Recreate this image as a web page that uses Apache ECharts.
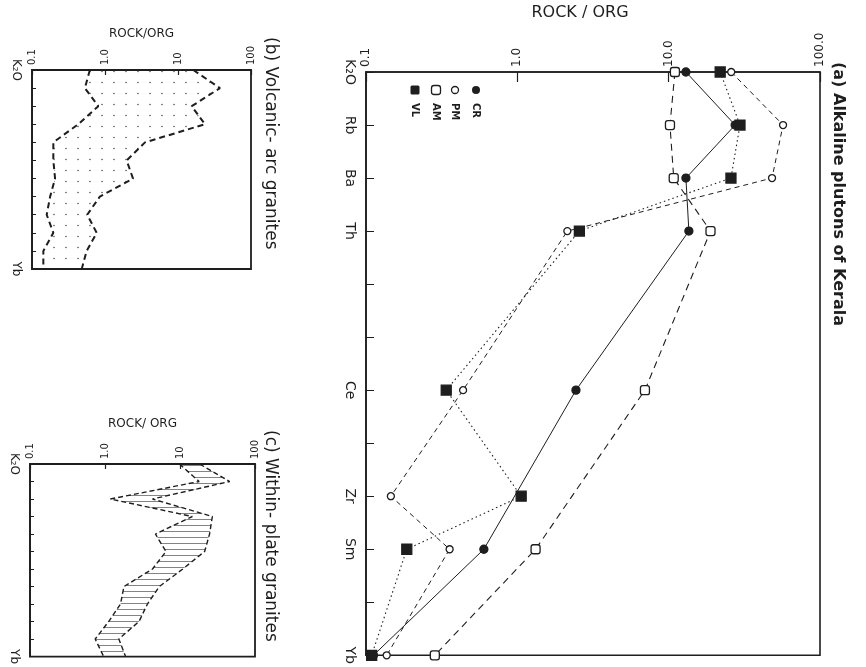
<!DOCTYPE html>
<html><head><meta charset="utf-8">
<script src="https://cdn.jsdelivr.net/npm/echarts@6/dist/echarts.min.js"></script>
<style>html,body{margin:0;padding:0;background:#fff}#c{width:866px;height:667px}</style>
</head><body><div id="c"></div><script>
// ---- data ----
const elements = ['K2O','Rb','Ba','Th','Ta','Nb','Ce','Hf','Zr','Sm','Y','Yb'];
const mainCatLabels = {K2O:'K₂O', Rb:'Rb', Ba:'Ba', Th:'Th', Ce:'Ce', Zr:'Zr', Sm:'Sm', Yb:'Yb'};
const smallCatLabels = {K2O:'K₂O', Yb:'Yb'};
const mainTickLabels = ['0.1','1.0','10.0','100.0'];
const smallTickLabels = ['0.1','1.0','10','100'];
const CR = [13.0, 27.5, 13.0, 13.6, null, null, 2.44, null, null, 0.601, null, 0.112];
const PM = [25.9, 57.0, 48.2, 2.14, null, null, 0.438, null, 0.146, 0.357, null, 0.137];
const AM = [11.0, 10.2, 10.8, 18.9, null, null, 6.97, null, null, 1.32, null, 0.285];
const VL = [21.9, 29.6, 25.8, 2.57, null, null, 0.339, null, 1.06, 0.186, null, 0.109];
const vagUpper = [16.2, 37.6, 15.4, 23.4, 3.53, 1.98, 2.42, 0.85, 0.57, 0.77, 0.56, 0.48];
const vagLower = [0.62, 0.53, 0.81, 0.43, 0.196, 0.196, 0.207, 0.177, 0.159, 0.196, 0.143, 0.143];
const wpgUpper = [18.3, 46, 4.3, 27, 24.8, 21.3, 10.9, 5.3, 3.68, 2.84, 1.53, 1.88];
const wpgLower = [9.8, 18, 1.18, 14.6, 4.7, 6.5, 4.3, 1.79, 1.61, 1.12, 0.74, 0.96];

// ---- styling ----
const FONT = 'DejaVu Sans';
const INK = '#1e1e1e';

function dotPattern() {
  const c = document.createElement('canvas'); c.width = 12; c.height = 11;
  const g = c.getContext('2d'); g.fillStyle = '#555';
  g.beginPath(); g.arc(6, 5.5, 0.8, 0, Math.PI * 2); g.fill();
  return {image: c, repeat: 'repeat'};
}
function hatchPattern() {
  const c = document.createElement('canvas'); c.width = 10; c.height = 6;
  const g = c.getContext('2d'); g.fillStyle = '#666';
  g.fillRect(0, 3, 10, 0.8);
  return {image: c, repeat: 'repeat'};
}

function valAxis(gi, labels, fs, name, gap, nfs, tickLen, namePad) {
  return {
    type: 'log', logBase: 10, gridIndex: gi, min: 0.1, max: 100, position: 'top',
    name: name, nameLocation: 'middle', nameGap: gap,
    nameTextStyle: {fontSize: nfs, color: INK, fontFamily: FONT, padding: namePad},
    axisLine: {show: true, lineStyle: {color: INK, width: 1.6}},
    axisTick: {show: true, inside: true, length: tickLen, lineStyle: {color: INK, width: 1.2}},
    axisLabel: {rotate: -90, fontSize: fs, color: INK, fontFamily: FONT, margin: 5,
      formatter: v => labels[Math.round(Math.log10(v)) + 1]},
    splitLine: {show: false}, minorTick: {show: false}, minorSplitLine: {show: false}
  };
}
function catAxis(gi, map, fs, tickLen, margin) {
  return {
    type: 'category', gridIndex: gi, data: elements, inverse: true, boundaryGap: false, position: 'left',
    axisLine: {show: true, lineStyle: {color: INK, width: 1.6}},
    axisTick: {show: true, inside: true, length: tickLen, interval: 0, lineStyle: {color: INK, width: 1}},
    axisLabel: {interval: 0, rotate: -90, fontSize: fs, color: INK, fontFamily: FONT, margin: margin,
      formatter: v => map[v] || ''},
    splitLine: {show: false}
  };
}
function envelopeFill(gi, upper, lower, fill) {
  return {
    type: 'custom', xAxisIndex: gi, yAxisIndex: gi, data: [0], silent: true, z: 1,
    renderItem: (params, api) => {
      const pts = [];
      upper.forEach((v, i) => pts.push(api.coord([v, i])));
      for (let i = lower.length - 1; i >= 0; i--) pts.push(api.coord([lower[i], i]));
      return {type: 'polygon', shape: {points: pts}, style: {fill: fill, stroke: null}};
    }
  };
}
function envLine(gi, data, w, dash) {
  return {type: 'line', xAxisIndex: gi, yAxisIndex: gi, data: data, symbol: 'none', silent: true, z: 3,
    lineStyle: {color: INK, width: w, type: dash}};
}
function sampleSeries(name, data, symbol, size, filled, dash, w) {
  return {type: 'line', name: name, xAxisIndex: 0, yAxisIndex: 0, data: data, connectNulls: true,
    symbol: symbol, symbolSize: size, showSymbol: true,
    itemStyle: {color: filled ? INK : '#fff', borderColor: INK, borderWidth: 1.3},
    lineStyle: {color: INK, width: w, type: dash}, z: filled ? 4 : 3};
}
function rotText(x, y, text, font) {
  return {type: 'text', x: x, y: y, rotation: -Math.PI / 2, silent: true,
    style: {text: text, font: font, fill: INK, align: 'left', verticalAlign: 'middle',
      textAlign: 'left', textVerticalAlign: 'middle'}};
}

const chart = echarts.init(document.getElementById('c'));
chart.setOption({
  backgroundColor: '#fff',
  animation: false,
  grid: [
    {left: 366, right: 46, top: 65, bottom: 11, show: true, borderColor: INK, borderWidth: 1.6},
    {left: 32, right: 615, top: 70, bottom: 398, show: true, borderColor: INK, borderWidth: 1.8},
    {left: 30, right: 611, top: 464, bottom: 10, show: true, borderColor: INK, borderWidth: 1.8}
  ],
  xAxis: [
    valAxis(0, mainTickLabels, 12, 'ROCK / ORG', 51, 16, 10, [0, 26, 0, 0]),
    valAxis(1, smallTickLabels, 10, 'ROCK/ORG', 30, 12, 5, 0),
    valAxis(2, smallTickLabels, 10, 'ROCK/ ORG', 34, 12, 5, 0)
  ],
  yAxis: [
    catAxis(0, mainCatLabels, 14, 8, 9),
    catAxis(1, smallCatLabels, 12, 4, 10),
    catAxis(2, smallCatLabels, 12, 4, 10)
  ],
  series: [
    sampleSeries('CR', CR, 'circle', 8, true, 'solid', 1),
    sampleSeries('PM', PM, 'circle', 7, false, [5, 4], 1),
    sampleSeries('AM', AM, 'roundRect', 9, false, [7, 5], 1.1),
    sampleSeries('VL', VL, 'rect', 10, true, [1.5, 3], 1.1),
    envelopeFill(1, vagUpper, vagLower, dotPattern()),
    envLine(1, vagUpper, 2, [6, 4]),
    envLine(1, vagLower, 2, [6, 4]),
    envelopeFill(2, wpgUpper, wpgLower, hatchPattern()),
    envLine(2, wpgUpper, 1.4, [5, 3]),
    envLine(2, wpgLower, 1.4, [5, 3])
  ],
  graphic: [
    {type: 'rect', silent: true, shape: {x: 410.5, y: 85.5, width: 9, height: 9, r: 1.5}, style: {fill: INK}},
    {type: 'rect', silent: true, shape: {x: 431.5, y: 85.5, width: 9, height: 9, r: 2.5}, style: {fill: '#fff', stroke: INK, lineWidth: 1.3}},
    {type: 'circle', silent: true, shape: {cx: 455, cy: 90, r: 3.5}, style: {fill: '#fff', stroke: INK, lineWidth: 1.3}},
    {type: 'circle', silent: true, shape: {cx: 476, cy: 90, r: 4}, style: {fill: INK}},
    rotText(415, 103, 'VL', 'bold 10px ' + FONT),
    rotText(436, 103, 'AM', 'bold 10px ' + FONT),
    rotText(455, 103, 'PM', 'bold 10px ' + FONT),
    rotText(476, 103, 'CR', 'bold 10px ' + FONT),
    rotText(838, 62, '(a) Alkaline plutons of Kerala', 'bold 16px ' + FONT),
    rotText(270, 37, '(b) Volcanic- arc granites', '17px ' + FONT),
    rotText(270, 430, '(c) Within- plate granites', '17px ' + FONT)
  ]
});
</script></body></html>
